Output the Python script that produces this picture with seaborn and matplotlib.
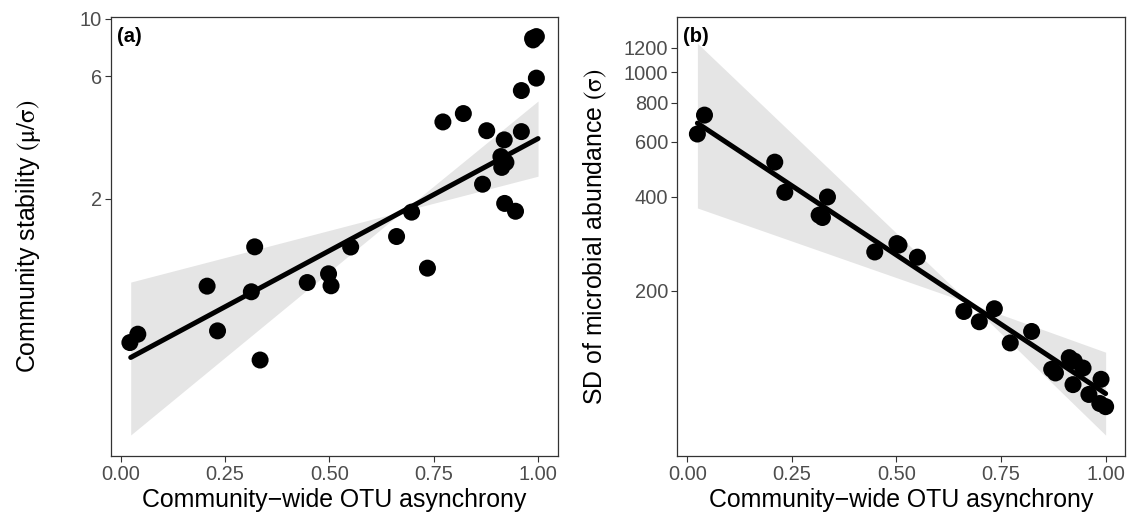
import numpy as np
import pandas as pd
import matplotlib
matplotlib.use("Agg")
import matplotlib.pyplot as plt
import seaborn as sns

# ---------------- data ----------------
left_x = [0.022, 0.041, 0.207, 0.232, 0.321, 0.313, 0.334, 0.447, 0.498, 0.504,
          0.551, 0.661, 0.697, 0.735, 0.772, 0.821, 0.877, 0.867, 0.919, 0.911,
          0.923, 0.913, 0.920, 0.946, 0.960, 0.960, 0.996, 0.988, 0.996, 0.987]
left_y = [0.553, 0.596, 0.916, 0.614, 1.302, 0.871, 0.473, 0.946, 1.023, 0.919,
          1.300, 1.428, 1.776, 1.076, 3.98, 4.29, 3.68, 2.28, 3.39, 2.92,
          2.77, 2.65, 1.92, 1.79, 3.65, 5.27, 5.89, 8.29, 8.54, 8.41]

right_x = [0.024, 0.041, 0.209, 0.233, 0.335, 0.315, 0.323, 0.448, 0.501, 0.506,
           0.550, 0.661, 0.698, 0.734, 0.772, 0.823, 0.871, 0.880, 0.913, 0.925,
           0.946, 0.922, 0.960, 0.989, 0.986, 1.000]
right_y = [635, 730, 516, 413, 399, 349, 343, 266, 283, 280,
           256, 171.5, 159, 175, 136, 148, 112, 109, 122, 119,
           113, 100, 93, 104, 87, 85]

fit_x = [0.024, 1.0]
left_fit = [0.484, 3.43]
right_fit = [688, 93.6]

band_x = [0.024, 0.676, 1.0]
left_lo = [0.242, 1.79, 2.45]
left_hi = [0.950, 1.79, 4.80]
right_lo = [368, 182, 68.9]
right_hi = [1240, 182, 127]

x_ticks = [0.0, 0.25, 0.5, 0.75, 1.0]
x_ticklabels = ["0.00", "0.25", "0.50", "0.75", "1.00"]
left_yticks = [2, 6, 10]
right_yticks = [200, 400, 600, 800, 1000, 1200]

x_title = "Community\u2212wide OTU asynchrony"
left_title = r"Community stability $\left(\mathrm{\mu}/\mathrm{\sigma}\right)$"
right_title = r"SD of microbial abundance $\left(\mathrm{\sigma}\right)$"
panel_tags = ["(a)", "(b)"]

# ---------------- style ----------------
sns.set_theme(style="white")
plt.rcParams["font.family"] = ["Liberation Sans", "DejaVu Sans"]
plt.rcParams["mathtext.fontset"] = "stix"

fig = plt.figure(figsize=(11.33, 5.13), dpi=100)
ax1 = fig.add_axes([0.0977, 0.1117, 0.3945, 0.8546])
ax2 = fig.add_axes([0.5978, 0.1117, 0.3954, 0.8546])

panels = [
    (ax1, left_x, left_y, left_fit, left_lo, left_hi, left_yticks, (0.201, 10.15), left_title, 26),
    (ax2, right_x, right_y, right_fit, right_lo, right_hi, right_yticks, (59.2, 1502), right_title, 11),
]

for i, (ax, px, py, fy, lo, hi, yt, ylim, ytitle, lpad) in enumerate(panels):
    ax.set_yscale("log")
    ax.fill_between(band_x, lo, hi, color="#E5E5E5", linewidth=0, zorder=1)
    df = pd.DataFrame({"x": px, "y": py})
    sns.scatterplot(data=df, x="x", y="y", ax=ax, s=150, color="black",
                    edgecolor="none", zorder=2, legend=False)
    dfl = pd.DataFrame({"x": fit_x, "y": fy})
    sns.lineplot(data=dfl, x="x", y="y", ax=ax, color="black", linewidth=3.6,
                 zorder=3, legend=False)
    ax.set_xlim(-0.024, 1.047)
    ax.set_ylim(*ylim)
    ax.set_xticks(x_ticks)
    ax.set_xticklabels(x_ticklabels)
    ax.set_yticks(yt)
    ax.set_yticklabels([str(v) for v in yt])
    ax.minorticks_off()
    ax.tick_params(axis="both", which="major", length=4, width=0.8,
                   color="#333333", labelcolor="#4D4D4D", labelsize=14.4,
                   direction="out", bottom=True, left=True, pad=2.5)
    for sp in ax.spines.values():
        sp.set_color("#333333")
        sp.set_linewidth(0.9)
    ax.set_xlabel(x_title, fontsize=17.9, color="black", labelpad=3)
    ax.set_ylabel(ytitle, fontsize=17.9, color="black", labelpad=lpad)
    ax.text(0.013, 0.978, panel_tags[i], transform=ax.transAxes, ha="left",
            va="top", fontsize=14.5, fontweight="bold", color="black")

fig.savefig("out.png", dpi=100)
